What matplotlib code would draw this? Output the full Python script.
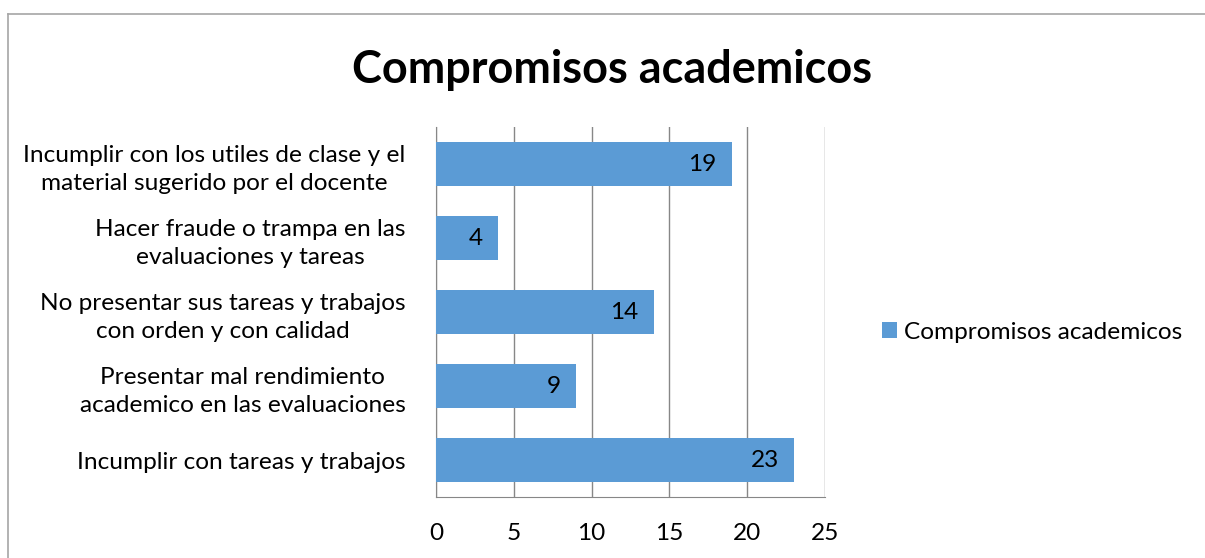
import matplotlib.pyplot as plt
from matplotlib.lines import Line2D

plt.rcParams['font.family'] = ['Lato', 'DejaVu Sans']

# datos (de abajo hacia arriba, como en el grafico)
categorias = [
    'Incumplir con tareas y trabajos',
    'Presentar mal rendimiento\nacademico en las evaluaciones',
    'No presentar sus tareas y trabajos\ncon orden y con calidad',
    'Hacer fraude o trampa en las\nevaluaciones y tareas',
    'Incumplir con los utiles de clase y el\nmaterial sugerido por el docente',
]
valores = [23, 9, 14, 4, 19]
serie = 'Compromisos academicos'
titulo = 'Compromisos academicos'
xticks = [0, 5, 10, 15, 20, 25]

azul = '#5B9BD5'
gris = '#878787'
fs = 17.6

fig = plt.figure(figsize=(12.05, 5.58), dpi=100)
ax = fig.add_axes([0.3618, 0.1093, 0.3228, 0.6631])

pos = list(range(len(categorias)))
barras = ax.barh(pos, valores, height=0.59, color=azul, label=serie, zorder=3)

for b, v in zip(barras, valores):
    ax.annotate(str(v), (b.get_width(), b.get_y() + b.get_height() / 2),
                xytext=(-15, 0), textcoords='offset pixels',
                ha='right', va='center', fontsize=fs, color='#000000', zorder=4)

ax.set_xlim(0, 25)
ax.set_ylim(-0.5, len(categorias) - 0.5)
ax.set_xticks(xticks)
ax.set_yticks(pos)
ax.set_yticklabels(categorias)
for t in ax.get_yticklabels():
    t.set_multialignment('center')
    t.set_linespacing(1.4)

ax.tick_params(axis='y', length=0, pad=22, labelsize=fs)
ax.tick_params(axis='x', length=0, pad=19, labelsize=fs)

ax.grid(axis='x', color=gris, linewidth=1.0, zorder=0)
ax.spines['top'].set_visible(False)
ax.spines['right'].set_visible(False)
ax.spines['left'].set_color(gris)
ax.spines['bottom'].set_color(gris)

fig.text(0.508, 0.874, titulo, ha='center', va='center', fontsize=32.4, fontweight='bold')

leg = fig.legend(handles=[barras], labels=[serie], loc='center left',
                 bbox_to_anchor=(0.714, 0.405), frameon=False, fontsize=fs,
                 handlelength=0.6, handleheight=0.6, handletextpad=0.3)

# marco del area del grafico
fig.add_artist(Line2D([8 / 1205, 1.0], [1 - 14 / 558] * 2, color='#A6A6A6', linewidth=1.2))
fig.add_artist(Line2D([8 / 1205] * 2, [0.0, 1 - 14 / 558], color='#A6A6A6', linewidth=1.2))

plt.savefig('out.png', dpi=100)
